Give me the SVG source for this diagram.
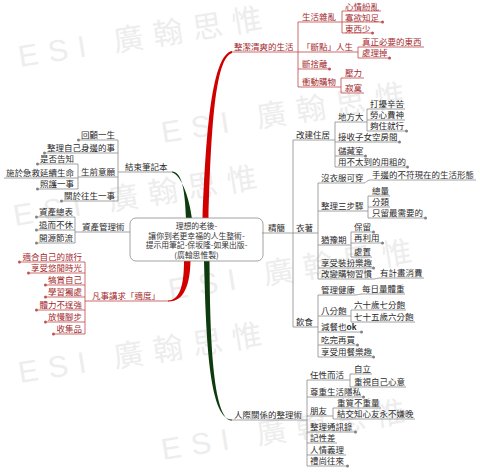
<svg xmlns="http://www.w3.org/2000/svg" width="480" height="473" viewBox="0 0 480 473">
<style>
.t{font-family:"Noto Sans CJK TC","Noto Sans CJK SC",sans-serif;font-size:8.5px;fill:#2a2a2a}
.tr{fill:#a3282c}
.e{text-anchor:end}
.u{stroke:#8a8a8a;stroke-width:0.8;fill:none}
.ur{stroke:#c04848}
.d{fill:#808080}
.dr{fill:#c05050}
.c{fill:none;stroke:#8a8a8a;stroke-width:0.8}
.cr{stroke:#c04848}
.wm{font-family:"Liberation Sans","Noto Sans CJK TC",sans-serif;font-size:30px;fill:#ededed;letter-spacing:10px}
.box{fill:#fff;stroke:#8c8c8c;stroke-width:0.8}
.ct{font-family:"Noto Sans CJK TC","Noto Sans CJK SC",sans-serif;font-size:7.8px;text-anchor:middle;fill:#333}
.red{fill:#d00000}
.grn{fill:#0d3b0d}
</style>
<rect width="480" height="473" fill="#fff"/>
<g id="watermark">
<text class="wm" transform="translate(20 67) rotate(-9)">ESI<tspan dx="18">廣翰思惟</tspan></text>
<text class="wm" transform="translate(163 143) rotate(-9)">ESI<tspan dx="18">廣翰思惟</tspan></text>
<text class="wm" transform="translate(15 226) rotate(-9)">ESI<tspan dx="18">廣翰思惟</tspan></text>
<text class="wm" transform="translate(170 300) rotate(-9)">ESI<tspan dx="18">廣翰思惟</tspan></text>
<text class="wm" transform="translate(20 383) rotate(-9)">ESI<tspan dx="18">廣翰思惟</tspan></text>
<text class="wm" transform="translate(163 460) rotate(-9)">ESI<tspan dx="18">廣翰思惟</tspan></text>
</g>
<g id="connectors">
<path class="red" d="M202.5 219 C206 130 212 55 232 51 L232 53 C215 58 211 130 208.5 219 Z"/>
<path class="grn" d="M186 219 C185 190 182 172 172 171.6 L172 172.6 C180 174 189 195 192 219 Z"/>
<path class="grn" d="M204 261 C206 330 208 420 232 419.5 L232 420.5 C212 421 210 330 209.5 261 Z"/>
<path class="red" d="M184 261 C184 285 180 300 168 300.5 L168 301.5 C184 302 190 285 190.5 261 Z"/>
<path class="c cr" d="M298 22V87 M342 11V33 M358 47V58 M341 78V93"/>
<path class="c" d="M293 140V327 M335 122V167 M367 109V131 M318 183V279 M368 196V218 M351 232V257 M318 295V357 M351 310V322"/>
<path class="c" d="M364 183 C366 183 367 180 370 180 M374 279 C376 279 377 278 379 278 M356 295 C358 295 359 294 361 294"/>
<path class="c" d="M307 380V466 M350 374V387 M333 408V419"/>
<path class="c" d="M118 140V201 M78 164V189 M75 217V243"/>
<path class="c cr" d="M85 262V334"/>
</g>
<g id="center">
<rect class="box" x="130" y="218" width="133" height="43" rx="6"/>
<text class="ct" x="196.5" y="229">理想的老後-</text>
<text class="ct" x="196.5" y="238.5">讓你到老更幸福的人生整術-</text>
<text class="ct" x="196.5" y="248">提示用筆記-保坂隆-如果出版-</text>
<text class="ct" x="196.5" y="257.5">(廣翰思惟製)</text>
</g>
<g id="n-clean"><text class="t tr" x="234" y="50">整潔清爽的生活</text><path class="u ur" d="M232 52H298"/></g>
<g id="n-messy"><text class="t tr" x="302" y="20">生活雜亂</text><path class="u ur" d="M298 22H342"/></g>
<g id="n-mood"><text class="t tr" x="345" y="9.5">心情紛亂</text><path class="u ur" d="M342 11H381"/></g>
<g id="n-content"><text class="t tr" x="345" y="20.5">寡欲知足</text><path class="u ur" d="M342 22H381"/><circle class="dr" cx="382.5" cy="22" r="1.5"/></g>
<g id="n-fewer"><text class="t tr" x="345" y="31.5">東西少</text><path class="u ur" d="M342 33H371"/><circle class="dr" cx="372.5" cy="33" r="1.5"/></g>
<g id="n-point"><text class="t tr" x="302" y="50">「斷點」人生</text><path class="u ur" d="M298 52H358"/></g>
<g id="n-need"><text class="t tr" x="362" y="45">真正必要的東西</text><path class="u ur" d="M358 47H424"/></g>
<g id="n-dispose"><text class="t tr" x="362" y="56">處理掉</text><path class="u ur" d="M358 58H388"/><circle class="dr" cx="389.5" cy="58" r="1.5"/></g>
<g id="n-declutter"><text class="t tr" x="302" y="67">斷捨離</text><path class="u ur" d="M298 69H328"/><circle class="dr" cx="329.5" cy="69" r="1.5"/></g>
<g id="n-impulse"><text class="t tr" x="302" y="85">衝動購物</text><path class="u ur" d="M298 87H341"/></g>
<g id="n-stress"><text class="t tr" x="345" y="76">壓力</text><path class="u ur" d="M341 78H364"/></g>
<g id="n-lonely"><text class="t tr" x="345" y="91">寂寞</text><path class="u ur" d="M341 93H364"/></g>
<g id="n-simple"><text class="t" x="268" y="231">精簡</text><path class="u" d="M262 233H293"/></g>
<g id="n-house"><text class="t" x="296" y="138">改建住居</text><path class="u" d="M293 140H335"/></g>
<g id="n-space"><text class="t" x="338" y="120">地方大</text><path class="u" d="M335 122H367"/></g>
<g id="n-trouble"><text class="t" x="370" y="107">打擾辛苦</text><path class="u" d="M367 109H405"/></g>
<g id="n-tiring"><text class="t" x="370" y="118">勞心費神</text><path class="u" d="M367 120H405"/></g>
<g id="n-enough"><text class="t" x="370" y="129">夠住就行</text><path class="u" d="M367 131H405"/><circle class="d" cx="406.5" cy="131" r="1.5"/></g>
<g id="n-room"><text class="t" x="338" y="140">接收子女空房間</text><path class="u" d="M335 142H398"/><circle class="d" cx="399.5" cy="142" r="1.5"/></g>
<g id="n-storage"><text class="t" x="338" y="154">儲藏室</text><path class="u" d="M335 156H364"/><circle class="d" cx="365.5" cy="156" r="1.5"/></g>
<g id="n-unused"><text class="t" x="338" y="165">用不太到的用粗的</text><path class="u" d="M335 167H406"/><circle class="d" cx="407.5" cy="167" r="1.5"/></g>
<g id="n-clothes"><text class="t" x="296" y="231">衣著</text><path class="u" d="M293 233H318"/></g>
<g id="n-noclothes"><text class="t" x="321" y="181">沒衣服可穿</text><path class="u" d="M318 183H364"/></g>
<g id="n-unfit"><text class="t" x="372" y="178">手邊的不符現在的生活形態</text><path class="u" d="M370 180H476"/></g>
<g id="n-3steps"><text class="t" x="321" y="209">整理三步驟</text><path class="u" d="M318 211H368"/></g>
<g id="n-total"><text class="t" x="372" y="194">總量</text><path class="u" d="M368 196H390"/></g>
<g id="n-sort"><text class="t" x="372" y="205">分類</text><path class="u" d="M368 207H390"/></g>
<g id="n-keep"><text class="t" x="372" y="216">只留最需要的</text><path class="u" d="M368 218H424"/><circle class="d" cx="425.5" cy="218" r="1.5"/></g>
<g id="n-hesitate"><text class="t" x="321" y="243">猶豫期</text><path class="u" d="M318 245H351"/></g>
<g id="n-retain"><text class="t" x="354" y="230">保留</text><path class="u" d="M351 232H372"/><circle class="d" cx="373.5" cy="232" r="1.5"/></g>
<g id="n-reuse"><text class="t" x="354" y="241">再利用</text><path class="u" d="M351 243H381"/><circle class="d" cx="382.5" cy="243" r="1.5"/></g>
<g id="n-dispose2"><text class="t" x="354" y="255">處置</text><path class="u" d="M351 257H372"/></g>
<g id="n-dressup"><text class="t" x="321" y="266">享受裝扮樂趣</text><path class="u" d="M318 268H372"/><circle class="d" cx="373.5" cy="268" r="1.5"/></g>
<g id="n-habit"><text class="t" x="321" y="277">改變購物習慣</text><path class="u" d="M318 279H374"/></g>
<g id="n-plan"><text class="t" x="380" y="276">有計畫消費</text><path class="u" d="M379 278H424"/></g>
<g id="n-diet"><text class="t" x="296" y="325">飲食</text><path class="u" d="M293 327H318"/></g>
<g id="n-health"><text class="t" x="321" y="293">管理健康</text><path class="u" d="M318 295H356"/></g>
<g id="n-weigh"><text class="t" x="362" y="292">每日量體重</text><path class="u" d="M361 294H405"/></g>
<g id="n-80"><text class="t" x="321" y="314">八分飽</text><path class="u" d="M318 316H351"/></g>
<g id="n-60"><text class="t" x="354" y="308">六十歲七分飽</text><path class="u" d="M351 310H406"/></g>
<g id="n-75"><text class="t" x="354" y="320">七十五歲六分飽</text><path class="u" d="M351 322H415"/></g>
<g id="n-less"><text class="t" x="321" y="330">減餐也<tspan font-weight="bold" font-family="Liberation Sans,sans-serif">ok</tspan></text><path class="u" d="M318 332H360"/><circle class="d" cx="361.5" cy="332" r="1.5"/></g>
<g id="n-finish"><text class="t" x="321" y="343">吃完再買</text><path class="u" d="M318 345H356"/><circle class="d" cx="357.5" cy="345" r="1.5"/></g>
<g id="n-enjoymeal"><text class="t" x="321" y="355">享受用餐樂趣</text><path class="u" d="M318 357H372"/><circle class="d" cx="373.5" cy="357" r="1.5"/></g>
<g id="n-relation"><text class="t" x="234" y="418">人際關係的整理術</text><path class="u" d="M230 420H307"/></g>
<g id="n-willful"><text class="t" x="310" y="378">任性而活</text><path class="u" d="M307 380H350"/></g>
<g id="n-independent"><text class="t" x="354" y="372">自立</text><path class="u" d="M350 374H372"/></g>
<g id="n-ownmind"><text class="t" x="354" y="385">重視自己心意</text><path class="u" d="M350 387H406"/></g>
<g id="n-privacy"><text class="t" x="310" y="395">尊重生活隱私</text><path class="u" d="M307 397H362"/><circle class="d" cx="363.5" cy="397" r="1.5"/></g>
<g id="n-friends"><text class="t" x="310" y="414">朋友</text><path class="u" d="M307 416H333"/></g>
<g id="n-quality"><text class="t" x="337" y="406">重質不重量</text><path class="u" d="M333 408H381"/></g>
<g id="n-soulmate"><text class="t" x="337" y="417">結交知心友永不嫌晚</text><path class="u" d="M333 419H415"/></g>
<g id="n-contacts"><text class="t" x="310" y="430">整理通訊錄</text><path class="u" d="M307 432H354"/><circle class="d" cx="355.5" cy="432" r="1.5"/></g>
<g id="n-memory"><text class="t" x="310" y="441">記性差</text><path class="u" d="M307 443H337"/></g>
<g id="n-obligation"><text class="t" x="310" y="453">人情義理</text><path class="u" d="M307 455H346"/></g>
<g id="n-courtesy"><text class="t" x="310" y="464">禮尚往來</text><path class="u" d="M307 466H346"/><circle class="d" cx="347.5" cy="466" r="1.5"/></g>
<g id="n-endnote"><text class="t" x="125" y="170">結束筆記本</text><path class="u" d="M118 172H173"/></g>
<g id="n-review"><text class="t e" x="115" y="138">回顧一生</text><path class="u" d="M80 140H118"/><circle class="d" cx="78.5" cy="140" r="1.5"/></g>
<g id="n-surroundings"><text class="t e" x="115" y="151">整理自己身邊的事</text><path class="u" d="M46 153H118"/><circle class="d" cx="44.5" cy="153" r="1.5"/></g>
<g id="n-wishes"><text class="t e" x="115" y="175">生前意願</text><path class="u" d="M78 177H118"/></g>
<g id="n-tell"><text class="t e" x="74" y="162">是否告知</text><path class="u" d="M39 164H78"/><circle class="d" cx="37.5" cy="164" r="1.5"/></g>
<g id="n-resus"><text class="t e" x="74" y="176">施於急救延續生命</text><path class="u" d="M4 178H78"/></g>
<g id="n-care"><text class="t e" x="74" y="187">照護一事</text><path class="u" d="M39 189H78"/><circle class="d" cx="37.5" cy="189" r="1.5"/></g>
<g id="n-death"><text class="t e" x="115" y="199">關於往生一事</text><path class="u" d="M63 201H118"/><circle class="d" cx="61.5" cy="201" r="1.5"/></g>
<g id="n-asset"><text class="t" x="82" y="230">資產管理術</text><path class="u" d="M75 232H130"/></g>
<g id="n-statement"><text class="t e" x="73" y="215">資產總表</text><path class="u" d="M38 217H75"/><circle class="d" cx="36.5" cy="217" r="1.5"/></g>
<g id="n-work"><text class="t e" x="73" y="228">退而不休</text><path class="u" d="M38 230H75"/><circle class="d" cx="36.5" cy="230" r="1.5"/></g>
<g id="n-income"><text class="t e" x="73" y="241">開源節流</text><path class="u" d="M38 243H75"/><circle class="d" cx="36.5" cy="243" r="1.5"/></g>
<g id="n-moderate"><text class="t tr" x="92" y="299">凡事講求「適度」</text><path class="u ur" d="M85 301H169"/></g>
<g id="n-travel"><text class="t tr e" x="82" y="260">適合自己的旅行</text><path class="u ur" d="M21 262H85"/><circle class="dr" cx="19.5" cy="262" r="1.5"/></g>
<g id="n-leisure"><text class="t tr e" x="82" y="271">享受悠閒時光</text><path class="u ur" d="M30 273H85"/><circle class="dr" cx="28.5" cy="273" r="1.5"/></g>
<g id="n-reward"><text class="t tr e" x="82" y="283">犒賞自己</text><path class="u ur" d="M47 285H85"/><circle class="dr" cx="45.5" cy="285" r="1.5"/></g>
<g id="n-alone"><text class="t tr e" x="82" y="295">學習獨處</text><path class="u ur" d="M47 297H85"/><circle class="dr" cx="45.5" cy="297" r="1.5"/></g>
<g id="n-strength"><text class="t tr e" x="82" y="308">體力不逞強</text><path class="u ur" d="M38 310H85"/><circle class="dr" cx="36.5" cy="310" r="1.5"/></g>
<g id="n-slow"><text class="t tr e" x="82" y="320">放慢腳步</text><path class="u ur" d="M47 322H85"/><circle class="dr" cx="45.5" cy="322" r="1.5"/></g>
<g id="n-collect"><text class="t tr e" x="82" y="332">收集品</text><path class="u ur" d="M55 334H85"/><circle class="dr" cx="53.5" cy="334" r="1.5"/></g>
</svg>
